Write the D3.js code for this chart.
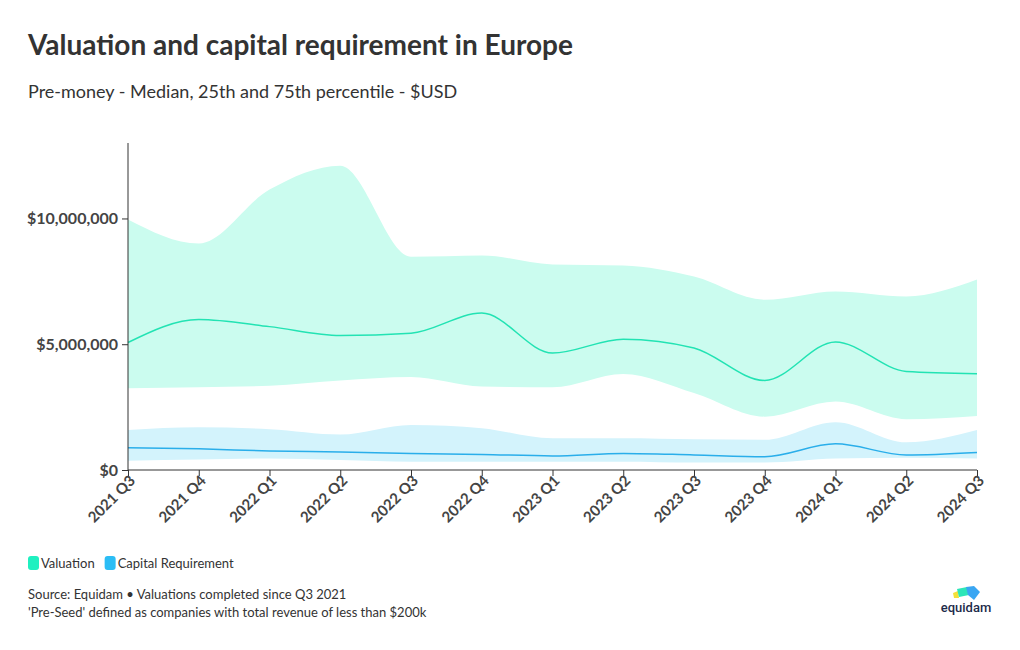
<!DOCTYPE html>
<html>
<head>
<meta charset="utf-8">
<script src="https://cdn.jsdelivr.net/npm/d3@7"></script>
<style>
  body { margin: 0; background: #fff; }
  svg { font-family: "Source Sans Pro", Lato, "Noto Sans", sans-serif; }
</style>
</head>
<body>
<svg id="chart" width="1020" height="650"></svg>
<script>
const categories = ["2021 Q3","2021 Q4","2022 Q1","2022 Q2","2022 Q3","2022 Q4","2023 Q1","2023 Q2","2023 Q3","2023 Q4","2024 Q1","2024 Q2","2024 Q3"];
const valuationP75 = [9960000, 9000000, 11150000, 12100000, 8480000, 8530000, 8170000, 8130000, 7690000, 6770000, 7100000, 6900000, 7570000];
const valuationMedian = [5070000, 5980000, 5700000, 5350000, 5440000, 6240000, 4650000, 5200000, 4850000, 3560000, 5090000, 3920000, 3830000];
const valuationP25 = [3250000, 3290000, 3350000, 3560000, 3700000, 3320000, 3290000, 3820000, 3060000, 2120000, 2720000, 2020000, 2150000];
const capitalP75 = [1590000, 1700000, 1620000, 1410000, 1790000, 1660000, 1260000, 1260000, 1220000, 1200000, 1900000, 1100000, 1590000];
const capitalMedian = [880000, 840000, 760000, 720000, 660000, 620000, 560000, 660000, 600000, 530000, 1040000, 600000, 700000];
const capitalP25 = [370000, 420000, 460000, 400000, 330000, 330000, 330000, 330000, 300000, 300000, 460000, 490000, 460000];
const yTicks = [0, 5000000, 10000000];
const seriesNames = ["Valuation", "Capital Requirement"];

const svg = d3.select("#chart");
const x = d3.scalePoint().domain(categories).range([128, 977]);
const y = d3.scaleLinear().domain([0, 13000000]).range([470, 143]);

const curve = d3.curveMonotoneX;
const area = (lo, hi) => d3.area().curve(curve)
  .x((d, i) => x(categories[i])).y0((d, i) => y(lo[i])).y1((d, i) => y(hi[i]));
const line = vals => d3.line().curve(curve)
  .x((d, i) => x(categories[i])).y((d, i) => y(vals[i]));

// Title & subtitle
svg.append("text").attr("x", 28).attr("y", 55).attr("font-size", 28).attr("font-weight", 700)
  .attr("fill", "#333").text("Valuation and capital requirement in Europe");
svg.append("text").attr("x", 28).attr("y", 98).attr("font-size", 18).attr("fill", "#333")
  .text("Pre-money - Median, 25th and 75th percentile - $USD");

// Bands
svg.append("path").datum(categories).attr("d", area(valuationP25, valuationP75)).attr("fill", "#cbfcef");
svg.append("path").datum(categories).attr("d", area(capitalP25, capitalP75)).attr("fill", "#d3f3fc");
svg.append("path").datum(categories).attr("d", line(valuationMedian)).attr("fill", "none")
  .attr("stroke", "#22e3b3").attr("stroke-width", 1.5);
svg.append("path").datum(categories).attr("d", line(capitalMedian)).attr("fill", "none")
  .attr("stroke", "#2aaeea").attr("stroke-width", 1.5);

// Y axis
const yAxis = svg.append("g").attr("transform", "translate(128,0)")
  .call(d3.axisLeft(y).tickValues(yTicks).tickSize(6).tickPadding(4)
    .tickFormat(d => "$" + d3.format(",")(d)));
yAxis.select(".domain").attr("stroke", "#333").attr("d", "M0,143V470");
yAxis.selectAll(".tick line").attr("stroke", "#333");
yAxis.selectAll(".tick text").attr("font-size", 16).attr("font-weight", 700).attr("fill", "#444")
  .attr("font-family", "\"Source Sans Pro\", Lato, sans-serif");

// X axis
const xAxis = svg.append("g").attr("transform", "translate(0,470)")
  .call(d3.axisBottom(x).tickSize(6).tickPadding(4));
xAxis.select(".domain").attr("stroke", "#333").attr("d", "M128,0H977");
xAxis.selectAll(".tick line").attr("stroke", "#333");
xAxis.selectAll(".tick text").attr("font-size", 15).attr("font-weight", 700).attr("fill", "#444")
  .attr("font-family", "\"Source Sans Pro\", Lato, sans-serif")
  .attr("text-anchor", "end").attr("dy", "0.35em")
  .attr("transform", "translate(4,8) rotate(-45)").attr("y", 0).attr("x", 0);

// Legend
const legendColors = ["#1ff0c0", "#2bbdf5"];
const lg = svg.append("g").attr("transform", "translate(28,556)");
let lx = 0;
seriesNames.forEach((n, i) => {
  lg.append("rect").attr("x", lx).attr("y", 0).attr("width", 11).attr("height", 14).attr("rx", 3)
    .attr("fill", legendColors[i]);
  const t = lg.append("text").attr("x", lx + 13).attr("y", 12).attr("font-size", 13).attr("fill", "#333").text(n);
  lx += 13 + t.node().getComputedTextLength() + 10;
});

// Footer
svg.append("text").attr("x", 28).attr("y", 599).attr("font-size", 13).attr("fill", "#333")
  .text("Source: Equidam \u2022 Valuations completed since Q3 2021");
svg.append("text").attr("x", 28).attr("y", 617).attr("font-size", 13).attr("fill", "#333")
  .text("'Pre-Seed' defined as companies with total revenue of less than $200k");

// Logo
const logo = svg.append("g").attr("transform", "translate(952,586)");
logo.append("path").attr("d", "M1,7 L6,5 L7,12 L2,12 Z").attr("fill", "#f3e03a");
logo.append("path").attr("d", "M5,3 L15,1 L17,9 L7,11 Z").attr("fill", "#2de6b8");
logo.append("path").attr("d", "M14,1 L22,0 L28,6 L22,14 L16,9 Z").attr("fill", "#3aa6f2");
svg.append("text").attr("x", 966).attr("y", 612).attr("text-anchor", "middle").attr("font-size", 13)
  .attr("font-family", "Roboto, sans-serif").attr("font-weight", 500).attr("fill", "#1d2b4a").text("equidam");
</script>
</body>
</html>
